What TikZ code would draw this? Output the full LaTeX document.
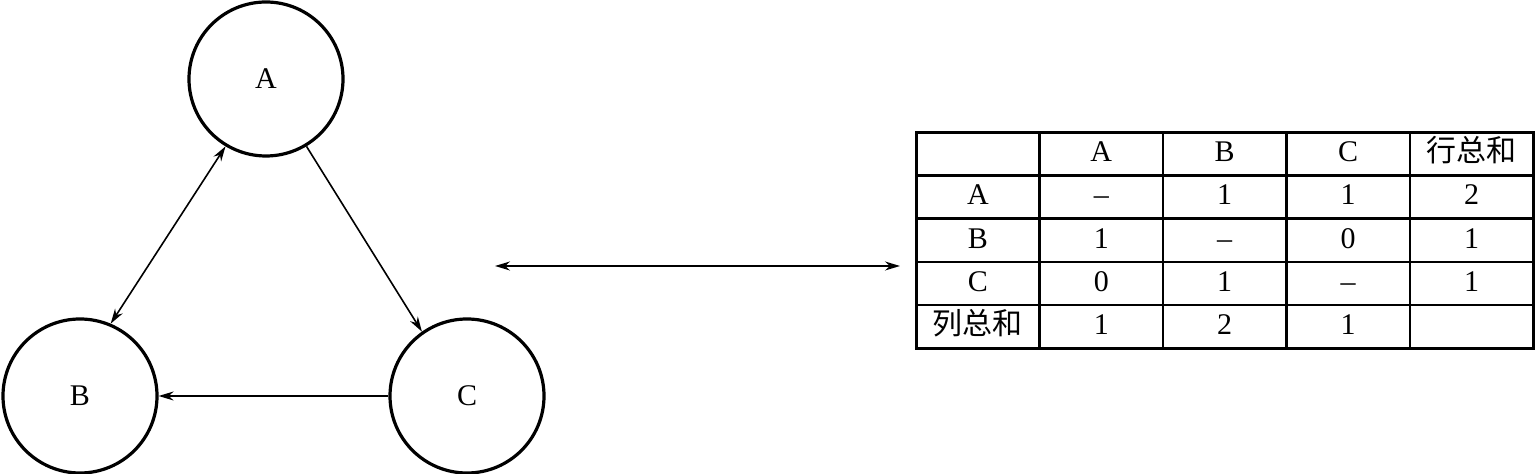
\documentclass[tikz,border=0pt]{standalone}
\usepackage{fontspec}
\setmainfont{Liberation Serif}
\newfontfamily\cjk{Noto Sans CJK SC}
\usetikzlibrary{arrows.meta,matrix}

\begin{document}
\begin{tikzpicture}[
        x=0.5pt, y=-0.5pt,
        state/.style={draw, circle, line width=1.6pt, minimum size=77pt, inner sep=0pt, font=\fontsize{15}{17}\selectfont},
        link/.style={line width=0.8pt, -{Stealth[length=7.5pt,width=4.5pt]}},
        twoway/.style={line width=0.8pt, {Stealth[length=7.5pt,width=4.5pt]}-{Stealth[length=7.5pt,width=4.5pt]}},
        cell/.style={draw, line width=1.2pt, minimum width=61.7pt, minimum height=21.6pt, inner sep=0pt,
            text height=10.5pt, text depth=2.5pt, anchor=center, font=\fontsize{15}{17}\selectfont}
    ]
    \useasboundingbox (0,0) rectangle (1535,474);

    % the three states
    \node[state] (A) at (266,79) {A};
    \node[state] (B) at (80,396) {B};
    \node[state] (C) at (467,396) {C};

    \draw[twoway] (A.239) -- (B.67);
    \draw[link] (A.301) -- (C.125);
    \draw[link] (C.180) -- (B.0);

    % equivalence arrow
    \coordinate (lft) at (495,266);
    \coordinate (rgt) at (900,266);
    \draw[twoway] (lft) -- (rgt);

    % count table
    \matrix (tab) [matrix of nodes, nodes in empty cells, anchor=north west,
        inner sep=0pt, outer sep=0pt, nodes={cell},
        column sep=-1.2pt, row sep=-1.2pt] at (915,131) {
                      & A  & B  & C  & {\cjk 行总和} \\
        A             & -- & 1  & 1  & 2 \\
        B             & 1  & -- & 0  & 1 \\
        C             & 0  & 1  & -- & 1 \\
        {\cjk 列总和} & 1  & 2  & 1  &   \\
    };
    \draw[line width=1.5pt] (tab-1-1.north west) rectangle (tab-5-5.south east);
\end{tikzpicture}
\end{document}
